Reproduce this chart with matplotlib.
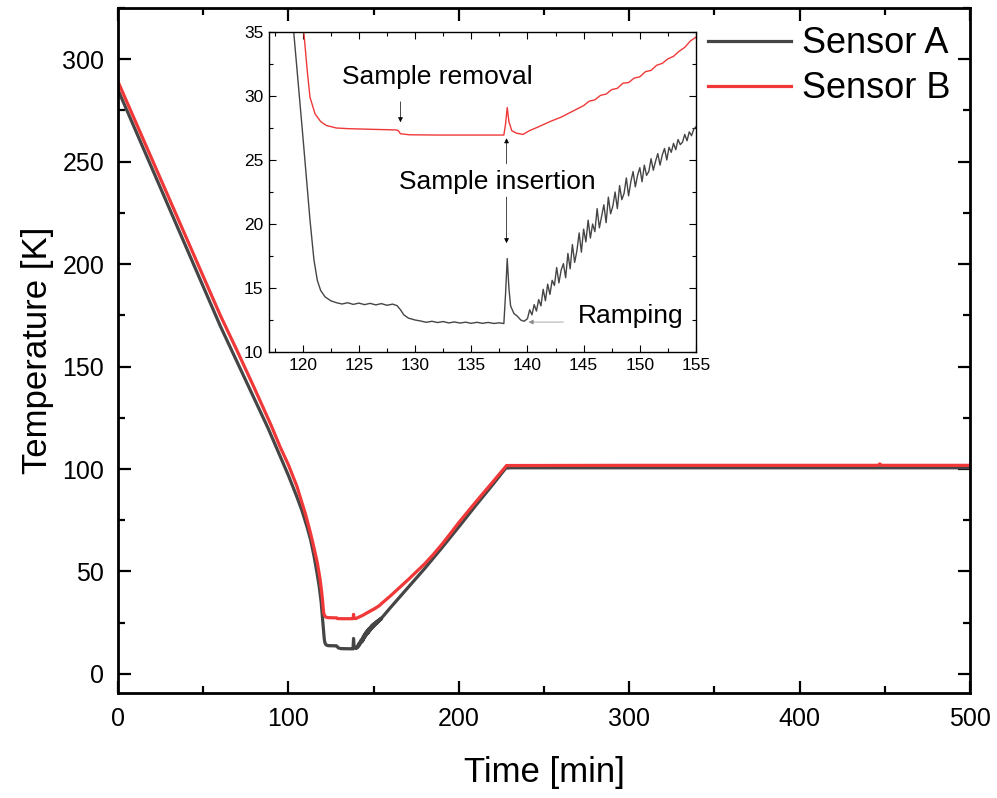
import matplotlib
matplotlib.use("Agg")
import matplotlib.pyplot as plt
from matplotlib.ticker import MultipleLocator

plt.rcParams['font.family'] = ['Liberation Sans', 'DejaVu Sans']

# Sensor A (gray) - time [min], temperature [K]
time_a = [0, 20, 40, 60, 70, 80, 88, 95, 100, 105, 108, 111, 113, 115, 116.5, 118,
          119.2, 120.0, 120.65, 121.0, 121.3, 121.6, 122, 122.5,
          123, 123.5, 124, 124.5, 125, 125.5, 126, 126.5, 127, 127.5, 128, 128.4,
          128.7, 129, 129.4, 130, 130.5, 131, 131.5, 132, 132.5, 133, 133.5, 134,
          134.5, 135, 135.5, 136, 136.5, 137, 137.5, 137.9, 138.05, 138.2, 138.35,
          138.5, 138.8, 139.1, 139.4, 139.7,
          140.0, 140.2, 140.4, 140.6, 140.8, 141.0, 141.2, 141.4, 141.6, 141.8,
          142.0, 142.2, 142.4, 142.6, 142.8, 143.0, 143.2, 143.4, 143.6, 143.8,
          144.0, 144.2, 144.4, 144.6, 144.8, 145.0, 145.2, 145.4, 145.6, 145.8,
          146.0, 146.2, 146.4, 146.6, 146.8, 147.0, 147.2, 147.4, 147.6, 147.8,
          148.0, 148.2, 148.4, 148.6, 148.8, 149.0, 149.2, 149.4, 149.6, 149.8,
          150.0, 150.2, 150.4, 150.6, 150.8, 151.0, 151.2, 151.4, 151.6, 151.8,
          152.0, 152.2, 152.4, 152.6, 152.8, 153.0, 153.2, 153.4, 153.6, 153.8,
          154.0, 154.2, 154.4, 154.6, 154.8, 155.0,
          160, 170, 180, 190, 200, 210, 220, 227.5, 230, 300, 400, 500]
temp_a = [285, 246.6, 208.2, 169.8, 152, 134.2, 120, 106.5, 96.8, 86.3, 79.5, 71.5, 65.5, 57.5, 50.5, 43,
          35, 27.0, 20.3, 17.2, 15.6, 14.8, 14.3, 14.0,
          13.85, 13.75, 13.85, 13.72, 13.82, 13.7, 13.8, 13.68, 13.78, 13.65, 13.74, 13.62,
          13.3, 12.9, 12.65, 12.5, 12.42, 12.32, 12.4, 12.3, 12.38, 12.27, 12.35, 12.26,
          12.33, 12.24, 12.32, 12.24, 12.31, 12.23, 12.28, 12.22, 14.5, 17.3, 15.0,
          13.6, 13.0, 12.8, 12.5, 12.4,
          12.6, 13.3, 12.9, 13.7, 13.2, 14.1, 13.6, 14.9, 14.0, 15.3,
          14.5, 15.6, 15.2, 16.6, 15.4, 16.4, 16.9, 15.8, 17.7, 16.5,
          18.4, 17.0, 17.9, 19.3, 17.8, 19.6, 18.6, 20.3, 18.9, 20.0,
          19.4, 21.2, 19.7, 20.6, 21.5, 20.1, 22.1, 20.8, 21.4, 22.5,
          21.2, 23.0, 21.9, 22.4, 23.6, 22.2, 23.3, 24.1, 22.9, 23.8,
          24.4, 23.3, 24.6, 23.8, 24.1, 25.1, 24.2, 24.9, 25.5, 24.6,
          25.4, 25.9, 25.0, 26.0, 25.6, 26.3, 25.8, 26.6, 26.2, 26.4,
          27.0, 26.5, 27.2, 26.9, 27.4, 27.6,
          32.5, 42.0, 51.5, 61.5, 71.8, 82.3, 92.5, 100.4, 100.6, 100.6, 100.6, 100.6]

# Sensor B (red)
time_b = [0, 20, 40, 60, 70, 80, 90, 95, 100, 105, 107, 110, 113, 115, 117, 118.5, 119.5,
          120.1, 120.4, 120.65, 121.1, 121.6, 122.1, 123, 124, 126, 128.3, 128.5,
          128.7, 129.5, 132, 135, 137.9, 138.05, 138.2, 138.35, 138.6, 139, 139.6,
          140.2, 141, 142, 143, 144, 145, 145.5, 146, 146.5, 147, 147.5, 148, 148.5,
          149, 149.5, 150, 150.5, 151, 151.5, 152, 152.5, 153, 153.5, 154, 154.5, 155,
          160, 165, 170, 175, 180, 185, 190, 195, 200, 210, 220, 228, 300, 446, 447, 448, 500]
temp_b = [289, 251, 213, 175, 157.5, 139.5, 121, 111, 102, 91.5, 86, 78, 68.5, 61.5, 54, 46.5, 40,
          35, 32, 29.9, 28.6, 28.0, 27.7, 27.5, 27.45, 27.4, 27.35, 27.3,
          27.05, 26.97, 26.95, 26.95, 26.95, 27.8, 29.1, 28.0, 27.3, 27.1, 27.0,
          27.3, 27.6, 28.0, 28.35, 28.8, 29.25, 29.6, 29.7, 30.05, 30.15, 30.5, 30.6, 31.0,
          31.05, 31.4, 31.5, 31.9, 32.0, 32.4, 32.55, 32.9, 33.1, 33.5, 33.8, 34.3, 34.6,
          38.2, 42.0, 45.8, 49.8, 53.8, 58.3, 63.2, 68.5, 73.9, 84.0, 93.8, 101.7, 101.8, 101.8, 102.5, 101.8, 101.8]

color_a = '#454545'
color_b = '#f03838'

fig = plt.figure(figsize=(9.97, 7.98), dpi=100)
ax = fig.add_axes([0.1184, 0.1316, 0.8546, 0.8584])

ax.plot(time_a, temp_a, color=color_a, lw=2.3, label='Sensor A')
ax.plot(time_b, temp_b, color=color_b, lw=2.3, label='Sensor B')

ax.set_xlim(0, 500)
ax.set_ylim(-9.3, 325)
ax.xaxis.set_major_locator(MultipleLocator(100))
ax.xaxis.set_minor_locator(MultipleLocator(50))
ax.yaxis.set_major_locator(MultipleLocator(50))
ax.yaxis.set_minor_locator(MultipleLocator(25))
ax.tick_params(which='both', direction='in', top=True, right=True, width=1.6, labelsize=18, pad=10)
ax.tick_params(which='major', length=9)
ax.tick_params(which='minor', length=5)
for s in ax.spines.values():
    s.set_linewidth(2.0)

ax.set_xlabel('Time [min]', fontsize=25, labelpad=18)
ax.set_ylabel('Temperature [K]', fontsize=25, labelpad=6)

ax.legend(loc='upper left', bbox_to_anchor=(0.6925, 0.973), frameon=False, fontsize=26,
          handlelength=2.3, handletextpad=0.3, labelspacing=0.27, borderpad=0, borderaxespad=0)

# inset zoom around the minimum
ins = fig.add_axes([0.2698, 0.5589, 0.4283, 0.401])
ins.plot(time_a, temp_a, color=color_a, lw=1.0)
ins.plot(time_b, temp_b, color=color_b, lw=1.0)
ins.set_xlim(117, 155)
ins.set_ylim(10, 35)
ins.xaxis.set_major_locator(MultipleLocator(5))
ins.xaxis.set_minor_locator(MultipleLocator(2.5))
ins.yaxis.set_major_locator(MultipleLocator(5))
ins.yaxis.set_minor_locator(MultipleLocator(2.5))
ins.tick_params(which='both', direction='in', top=True, right=True, labelsize=12.5, pad=4, width=0.8)
ins.tick_params(which='major', length=5)
ins.tick_params(which='minor', length=3)
for s in ins.spines.values():
    s.set_linewidth(1.0)

arrow = dict(arrowstyle='-|>', lw=0.5, color='k', mutation_scale=7, shrinkA=0, shrinkB=0)
ins.text(132.0, 31.5, 'Sample removal', fontsize=19, ha='center', va='center')
ins.annotate('', xy=(128.7, 27.95), xytext=(128.7, 29.55), arrowprops=arrow)
ins.text(137.35, 23.3, 'Sample insertion', fontsize=19, ha='center', va='center')
ins.annotate('', xy=(138.14, 26.7), xytext=(138.14, 24.7), arrowprops=arrow)
ins.annotate('', xy=(138.14, 18.5), xytext=(138.14, 22.1), arrowprops=arrow)
ins.text(144.5, 12.8, 'Ramping', fontsize=19, ha='left', va='center')
ins.annotate('', xy=(140.1, 12.34), xytext=(143.2, 12.34),
             arrowprops=dict(arrowstyle='-|>', lw=0.5, color='#888888', mutation_scale=7,
                             shrinkA=0, shrinkB=0))

fig.savefig('out.png', dpi=100)
